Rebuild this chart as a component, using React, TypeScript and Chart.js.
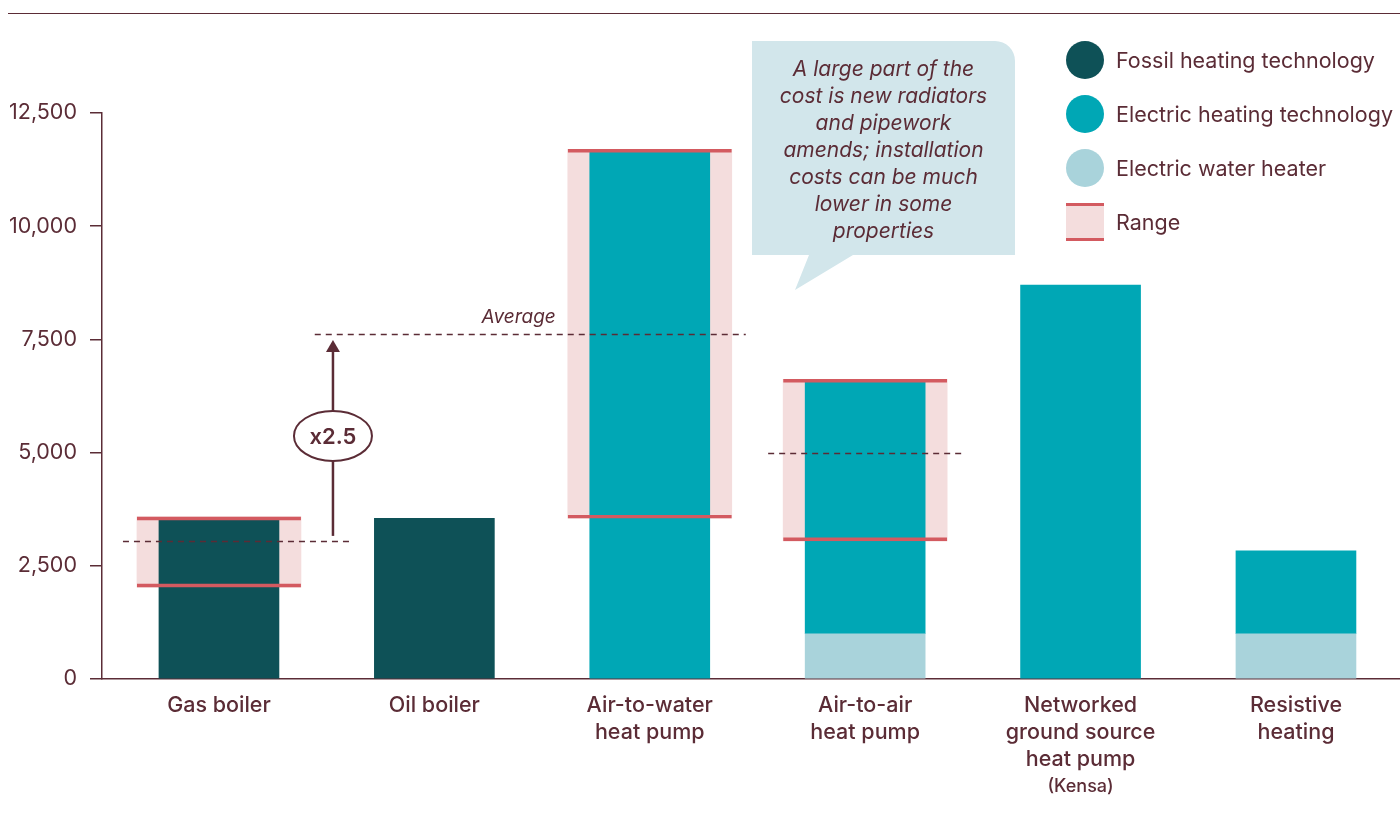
import React, { useEffect, useRef } from 'react';
import { Chart, registerables } from 'chart.js';

Chart.register(...registerables);

// ---------- data ----------
const categories: string[][] = [
  ['Gas boiler'],
  ['Oil boiler'],
  ['Air-to-water', 'heat pump'],
  ['Air-to-air', 'heat pump'],
  ['Networked', 'ground source', 'heat pump'],
  ['Resistive', 'heating'],
];
const categoryNotes = ['', '', '', '', '(Kensa)', ''];
const fossil = [3570, 3550, null, null, null, null];
const waterHeater = [null, null, null, 1000, null, 1000];
const electric = [null, null, 11700, 5620, 8700, 1830];
const rangeLow = [2030, null, 3550, 3050, null, null];
const rangeHigh = [3580, null, 11700, 6620, null, null];
const averages = [3050, null, 7620, 5000, null, null];
const yTicks = [0, 2500, 5000, 7500, 10000, 12500];
const multiplierLabel = 'x2.5';
const averageLabel = 'Average';
const calloutLines = [
  'A large part of the',
  'cost is new radiators',
  'and pipework',
  'amends; installation',
  'costs can be much',
  'lower in some',
  'properties',
];
const legendLabels = ['Fossil heating technology', 'Electric heating technology', 'Electric water heater', 'Range'];

// ---------- style ----------
const MAROON = '#5b2c36';
const FOSSIL = '#0e5157';
const ELECTRIC = '#00a7b5';
const WATER = '#a9d3db';
const RANGE_FILL = '#f4dddd';
const RANGE_LINE = '#d35a60';
const CALLOUT = '#d2e6eb';
const FONT = 'Inter, "Noto Sans", sans-serif';

const toPoints = (arr: (number | null)[]) =>
  arr.map((v, i) => (v == null ? null : { x: i, y: v })).filter(Boolean);
const toRanges = () =>
  rangeLow
    .map((l, i) => (l == null || rangeHigh[i] == null ? null : { x: i, y: [l, rangeHigh[i]] }))
    .filter(Boolean);

// offsets (px) of average dashed lines relative to category centre
const avgExtents: Record<number, [number, number]> = { 0: [-96, 130], 2: [-335, 96], 3: [-97, 97] };

const overlayPlugin = {
  id: 'overlay',
  afterDatasetsDraw(chart: any) {
    const { ctx, scales } = chart;
    const x = scales.x;
    const y = scales.y;
    ctx.save();
    ctx.strokeStyle = MAROON;
    ctx.lineWidth = 1.5;
    ctx.setLineDash([6, 5]);
    averages.forEach((a, i) => {
      if (a == null) return;
      const cx = x.getPixelForValue(i);
      const py = Math.round(y.getPixelForValue(a)) + 0.5;
      const [l, r] = avgExtents[i];
      ctx.beginPath();
      ctx.moveTo(cx + l, py);
      ctx.lineTo(cx + r, py);
      ctx.stroke();
    });
    ctx.setLineDash([]);
    ctx.restore();
  },
  afterDraw(chart: any) {
    const { ctx, scales } = chart;
    const x = scales.x;
    const y = scales.y;
    ctx.save();
    // top rule
    ctx.strokeStyle = MAROON;
    ctx.lineWidth = 1.2;
    ctx.beginPath();
    ctx.moveTo(8, 13.5);
    ctx.lineTo(1400, 13.5);
    ctx.stroke();

    // "Average" label
    const awCx = x.getPixelForValue(2);
    const awY = y.getPixelForValue(averages[2] as number);
    ctx.fillStyle = MAROON;
    ctx.font = `italic 400 19px ${FONT}`;
    ctx.textAlign = 'right';
    ctx.textBaseline = 'middle';
    ctx.fillText(averageLabel, awCx - 94, awY - 17);

    // arrow from gas average to air-to-water average
    const gCx = x.getPixelForValue(0);
    const ax = gCx + 114;
    const yBottom = y.getPixelForValue(averages[0] as number) - 5;
    const yTop = awY + 6;
    ctx.strokeStyle = MAROON;
    ctx.lineWidth = 2.5;
    ctx.beginPath();
    ctx.moveTo(ax, yBottom);
    ctx.lineTo(ax, yTop + 10);
    ctx.stroke();
    ctx.beginPath();
    ctx.moveTo(ax, yTop);
    ctx.lineTo(ax - 7, yTop + 12);
    ctx.lineTo(ax + 7, yTop + 12);
    ctx.closePath();
    ctx.fill();
    const ey = (yBottom + yTop) / 2 - 2;
    ctx.beginPath();
    ctx.ellipse(ax, ey, 39, 25, 0, 0, Math.PI * 2);
    ctx.fillStyle = '#ffffff';
    ctx.fill();
    ctx.lineWidth = 2;
    ctx.stroke();
    ctx.fillStyle = MAROON;
    ctx.font = `600 22px ${FONT}`;
    ctx.textAlign = 'center';
    ctx.fillText(multiplierLabel, ax, ey + 1);

    // callout bubble
    ctx.fillStyle = CALLOUT;
    ctx.beginPath();
    ctx.moveTo(752, 41);
    ctx.lineTo(995, 41);
    ctx.arcTo(1015, 41, 1015, 61, 20);
    ctx.lineTo(1015, 255);
    ctx.lineTo(853, 255);
    ctx.lineTo(795, 290);
    ctx.lineTo(809, 255);
    ctx.lineTo(752, 255);
    ctx.closePath();
    ctx.fill();
    ctx.fillStyle = MAROON;
    ctx.font = `italic 400 21px ${FONT}`;
    ctx.textAlign = 'center';
    calloutLines.forEach((t, i) => ctx.fillText(t, 883.5, 69.5 + i * 27));

    // legend
    const legendColors = [FOSSIL, ELECTRIC, WATER];
    ctx.font = `400 21.5px ${FONT}`;
    ctx.textAlign = 'left';
    legendLabels.forEach((t, i) => {
      const cy = 60 + i * 54;
      if (i < 3) {
        ctx.fillStyle = legendColors[i];
        ctx.beginPath();
        ctx.arc(1085, cy, 19, 0, Math.PI * 2);
        ctx.fill();
      } else {
        ctx.fillStyle = RANGE_FILL;
        ctx.fillRect(1066, cy - 18, 38, 36);
        ctx.fillStyle = RANGE_LINE;
        ctx.fillRect(1066, cy - 19, 38, 3);
        ctx.fillRect(1066, cy + 16, 38, 3);
      }
      ctx.fillStyle = MAROON;
      ctx.fillText(t, 1116, cy + 1.5);
    });

    // category notes
    ctx.font = `500 18px ${FONT}`;
    ctx.textAlign = 'center';
    categoryNotes.forEach((n, i) => {
      if (!n) return;
      ctx.fillText(n, x.getPixelForValue(i), 787);
    });
    ctx.restore();
  },
};

export default function App() {
  const ref = useRef<HTMLCanvasElement>(null);
  useEffect(() => {
    if (!ref.current) return;
    const chart = new Chart(ref.current, {
      type: 'bar',
      data: {
        datasets: [
          {
            label: 'Range fill',
            data: toRanges() as any,
            yAxisID: 'y2',
            backgroundColor: RANGE_FILL,
            borderWidth: 0,
            barThickness: 164,
            grouped: false,
            order: 10,
          },
          {
            label: 'Electric water heater',
            data: toPoints(waterHeater) as any,
            backgroundColor: WATER,
            barThickness: 120,
            grouped: false,
            order: 5,
          },
          {
            label: 'Fossil heating technology',
            data: toPoints(fossil) as any,
            backgroundColor: FOSSIL,
            barThickness: 120,
            grouped: false,
            order: 5,
          },
          {
            label: 'Electric heating technology',
            data: toPoints(electric) as any,
            backgroundColor: ELECTRIC,
            barThickness: 120,
            grouped: false,
            order: 5,
          },
          {
            label: 'Range',
            data: toRanges() as any,
            yAxisID: 'y2',
            backgroundColor: 'rgba(0,0,0,0)',
            borderColor: RANGE_LINE,
            borderWidth: { top: 3, bottom: 3, left: 0, right: 0 } as any,
            borderSkipped: false,
            barThickness: 164,
            grouped: false,
            order: 0,
          },
        ] as any,
      },
      options: {
        animation: false,
        responsive: true,
        maintainAspectRatio: false,
        layout: { padding: { top: 113, left: 0, right: 0, bottom: 0 } },
        plugins: { legend: { display: false }, tooltip: { enabled: false } },
        scales: {
          x: {
            type: 'linear',
            offset: false,
            min: -0.543,
            max: 5.483,
            grid: { display: false, offset: false },
            border: { display: true, color: MAROON, width: 1.5 },
            afterBuildTicks: (axis: any) => {
              axis.ticks = categories.map((_, i) => ({ value: i }));
            },
            afterFit: (s: any) => {
              s.height = 138;
            },
            ticks: {
              autoSkip: false,
              maxRotation: 0,
              padding: 5,
              color: MAROON,
              font: { family: FONT, size: 21.5, weight: '500', lineHeight: 1.256 } as any,
              callback: (v: any) => categories[Number(v)] ?? '',
            },
          },
          y: {
            type: 'linear',
            stacked: true,
            min: 0,
            max: 12500,
            afterBuildTicks: (axis: any) => {
              axis.ticks = yTicks.map((v) => ({ value: v }));
            },
            afterFit: (s: any) => {
              s.width = 102;
            },
            grid: { drawOnChartArea: false, tickLength: 12, color: MAROON, lineWidth: 1.5 },
            border: { display: true, color: MAROON, width: 1.5 },
            ticks: {
              padding: 13,
              color: MAROON,
              font: { family: FONT, size: 21.5 },
              callback: (v: any) => Number(v).toLocaleString('en-US'),
            },
          },
          y2: {
            type: 'linear',
            display: false,
            min: 0,
            max: 12500,
          },
        },
      } as any,
      plugins: [overlayPlugin],
    });
    return () => chart.destroy();
  }, []);
  return (
    <div style={{ position: 'fixed', left: 0, top: 0, width: 1400, height: 817, background: '#fff' }}>
      <canvas ref={ref} />
    </div>
  );
}
